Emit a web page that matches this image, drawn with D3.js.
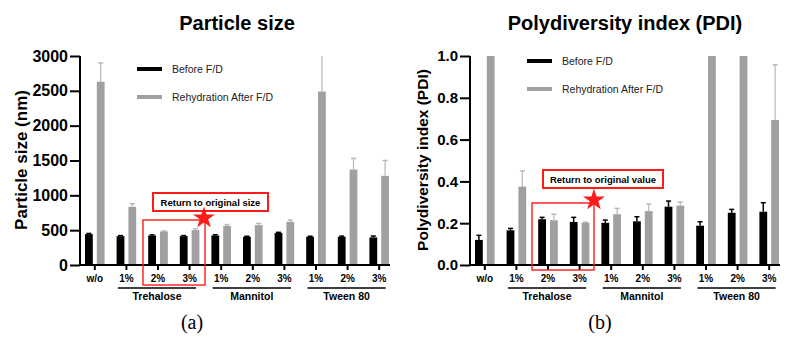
<!DOCTYPE html>
<html>
<head>
<meta charset="utf-8">
<script src="https://cdn.jsdelivr.net/npm/d3@7"></script>
<style>
  body { margin: 0; background: #fff; }
  svg { font-family: "Liberation Sans", Arial, sans-serif; display: block; }
</style>
</head>
<body>
<div id="chart"></div>
<script>
// groups on the x axis (keys must be unique, labels repeat)
const catKeys = ["w/o", "T1", "T2", "T3", "M1", "M2", "M3", "W1", "W2", "W3"];
const catLabels = ["w/o", "1%", "2%", "3%", "1%", "2%", "3%", "1%", "2%", "3%"];
const groupNames = ["Trehalose", "Mannitol", "Tween 80"];
const groupMembers = [["T1", "T3"], ["M1", "M3"], ["W1", "W3"]];
const seriesNames = ["Before F/D", "Rehydration After F/D"];

// particle size (nm)
const sizeBefore    = [443, 414, 424, 414, 424, 405, 461, 405, 405, 396];
const sizeBeforeErr = [10, 8, 8, 8, 10, 8, 8, 8, 10, 20];
const sizeAfter     = [2630, 835, 481, 500, 560, 572, 620, 2490, 1370, 1280];
const sizeAfterErr  = [270, 45, 8, 18, 20, 25, 25, 510, 160, 220];
const sizeTicks = [0, 500, 1000, 1500, 2000, 2500, 3000];

// PDI
const pdiBefore    = [0.120, 0.166, 0.219, 0.206, 0.202, 0.209, 0.279, 0.188, 0.250, 0.255];
const pdiBeforeErr = [0.022, 0.009, 0.009, 0.022, 0.013, 0.022, 0.027, 0.019, 0.016, 0.043];
const pdiAfter     = [1.0, 0.375, 0.214, 0.202, 0.243, 0.258, 0.284, 1.0, 1.0, 0.694];
const pdiAfterErr  = [0, 0.075, 0.029, 0.003, 0.028, 0.034, 0.017, 0, 0, 0.264];
const pdiTicks = [0.0, 0.2, 0.4, 0.6, 0.8, 1.0];

const colBlack = "#000";
const colGray = "#a0a0a4";
const colGrayErr = "#b8b8b8";
const red = "#ff1a1a";

const svg = d3.select("#chart").append("svg")
    .attr("width", 790)
    .attr("height", 339);

function panel(o) {
    const g = svg.append("g");

    const x0 = d3.scaleBand().domain(catKeys).range(o.xr).padding(0);
    const x1 = d3.scaleBand().domain(seriesNames).range([0, 19.6]).paddingInner(0.34);
    const off = (x0.bandwidth() - 19.6) / 2;
    const y = d3.scaleLinear().domain(o.ydom).range([265, 56]).clamp(true);

    const rows = catKeys.map((k, i) => [
        { k: k, s: seriesNames[0], v: o.before[i], e: o.beforeErr[i] },
        { k: k, s: seriesNames[1], v: o.after[i], e: o.afterErr[i] }
    ]).flat();

    const bx = d => x0(d.k) + off + x1(d.s);

    // error bars (upper only)
    const eg = g.append("g");
    eg.selectAll("line.v").data(rows.filter(d => d.e > 0)).join("line")
        .attr("x1", d => bx(d) + x1.bandwidth() / 2)
        .attr("x2", d => bx(d) + x1.bandwidth() / 2)
        .attr("y1", d => y(d.v))
        .attr("y2", d => y(d.v + d.e))
        .attr("stroke", d => d.s === seriesNames[0] ? colBlack : colGrayErr)
        .attr("stroke-width", d => d.s === seriesNames[0] ? 1.5 : 1.2);
    eg.selectAll("line.c").data(rows.filter(d => d.e > 0 && d.v + d.e < o.ydom[1])).join("line")
        .attr("x1", d => bx(d) + x1.bandwidth() / 2 - 2.5)
        .attr("x2", d => bx(d) + x1.bandwidth() / 2 + 2.5)
        .attr("y1", d => y(d.v + d.e))
        .attr("y2", d => y(d.v + d.e))
        .attr("stroke", d => d.s === seriesNames[0] ? colBlack : colGrayErr)
        .attr("stroke-width", 1.5);

    g.selectAll("rect.bar").data(rows).join("rect")
        .attr("class", "bar")
        .attr("x", bx)
        .attr("y", d => y(d.v))
        .attr("width", x1.bandwidth())
        .attr("height", d => y(o.ydom[0]) - y(d.v))
        .attr("fill", d => d.s === seriesNames[0] ? colBlack : colGray);

    // y axis
    const ya = g.append("g")
        .attr("transform", `translate(${o.xr[0] + 1},0)`)
        .call(d3.axisLeft(y).tickValues(o.ticks).tickFormat(o.fmt).tickSize(10).tickPadding(2));
    ya.selectAll("path, line").attr("stroke", "#000").attr("stroke-width", 2);
    ya.select("path").attr("d", `M0,${y(o.ydom[1])}V${y(o.ydom[0])}`);
    ya.selectAll("text").attr("font-size", o.yfs).attr("font-weight", "bold")
        .attr("fill", "#000").attr("font-family", "Liberation Sans, Arial, sans-serif");

    // x axis
    const xa = g.append("g")
        .attr("transform", `translate(0,${y(o.ydom[0])})`)
        .call(d3.axisBottom(x0).tickSize(5).tickSizeOuter(0).tickPadding(5)
            .tickFormat((d, i) => catLabels[i]));
    xa.selectAll("path, line").attr("stroke", "#000").attr("stroke-width", 2);
    const xEnd = x0(catKeys[catKeys.length - 1]) + off + 20.6;
    xa.select("path").attr("d", `M${o.xr[0]},0H${xEnd}`);
    xa.selectAll("text").attr("font-size", 10).attr("font-weight", "bold")
        .attr("fill", "#000").attr("font-family", "Liberation Sans, Arial, sans-serif");

    // group underlines + names
    groupMembers.forEach((m, i) => {
        const a = x0(m[0]) + x0.bandwidth() / 2 - 8.5;
        const b = x0(m[1]) + x0.bandwidth() / 2 + 6.5;
        g.append("line").attr("x1", a).attr("x2", b)
            .attr("y1", 288).attr("y2", 288)
            .attr("stroke", "#000").attr("stroke-width", 1.6);
        g.append("text").attr("x", (a + b) / 2).attr("y", 300)
            .attr("text-anchor", "middle").attr("font-size", 10.5)
            .attr("font-weight", "bold").text(groupNames[i]);
    });

    // titles
    g.append("text").attr("x", o.titleX).attr("y", 30)
        .attr("text-anchor", "middle").attr("font-size", 20)
        .attr("font-weight", "bold").text(o.title);
    g.append("text")
        .attr("transform", `translate(${o.ytX},160) rotate(-90)`)
        .attr("text-anchor", "middle").attr("font-size", o.ytfs)
        .attr("font-weight", "bold").text(o.ytitle);

    // legend
    seriesNames.forEach((s, i) => {
        const ly = o.legY + i * 28;
        g.append("line").attr("x1", o.legX).attr("x2", o.legX + 25)
            .attr("y1", ly).attr("y2", ly)
            .attr("stroke", i === 0 ? colBlack : colGray).attr("stroke-width", 4);
        g.append("text").attr("x", o.legX + 35).attr("y", ly + 4)
            .attr("font-size", 10.5).attr("fill", "#222").text(s);
    });

    // annotation
    const an = o.ann;
    g.append("rect").attr("x", an.bx).attr("y", an.by).attr("width", an.bw).attr("height", an.bh)
        .attr("fill", "#fff").attr("stroke", red).attr("stroke-width", 2);
    g.append("text").attr("x", an.bx + an.bw / 2).attr("y", an.by + an.bh / 2 + 3.5)
        .attr("text-anchor", "middle").attr("font-size", 9.5).attr("font-weight", "bold")
        .text(an.text);
    g.append("rect").attr("x", an.rx).attr("y", an.ry).attr("width", an.rw).attr("height", an.rh)
        .attr("fill", "none").attr("stroke", red).attr("stroke-width", 1.4);
    g.append("path")
        .attr("transform", `translate(${an.sx},${an.sy})`)
        .attr("d", d3.symbol(d3.symbolStar, 150)())
        .attr("fill", red);

    g.append("text").attr("x", o.capX).attr("y", 329)
        .attr("text-anchor", "middle").attr("font-size", 20)
        .attr("font-family", "Liberation Serif, Times New Roman, serif")
        .text(o.caption);
}

panel({
    xr: [79, 395], ydom: [0, 3000], ticks: sizeTicks, fmt: d3.format("d"), yfs: 16,
    before: sizeBefore, beforeErr: sizeBeforeErr, after: sizeAfter, afterErr: sizeAfterErr,
    title: "Particle size", titleX: 237, ytitle: "Particle size (nm)", ytX: 27, ytfs: 17,
    legX: 137, legY: 69, caption: "(a)", capX: 192,
    ann: { bx: 153, by: 193, bw: 115, bh: 18, text: "Return to original size",
           rx: 143, ry: 220, rw: 62, rh: 65, sx: 204, sy: 218 }
});

panel({
    xr: [469, 785], ydom: [0, 1.0], ticks: pdiTicks, fmt: d3.format(".1f"), yfs: 15,
    before: pdiBefore, beforeErr: pdiBeforeErr, after: pdiAfter, afterErr: pdiAfterErr,
    title: "Polydiversity index (PDI)", titleX: 625, ytitle: "Polydiversity index (PDI)", ytX: 428, ytfs: 15.5,
    legX: 527, legY: 61, caption: "(b)", capX: 600,
    ann: { bx: 543, by: 170, bw: 120, bh: 18, text: "Return to original value",
           rx: 532, ry: 203, rw: 62, rh: 67, sx: 594, sy: 200 }
});
</script>
</body>
</html>
